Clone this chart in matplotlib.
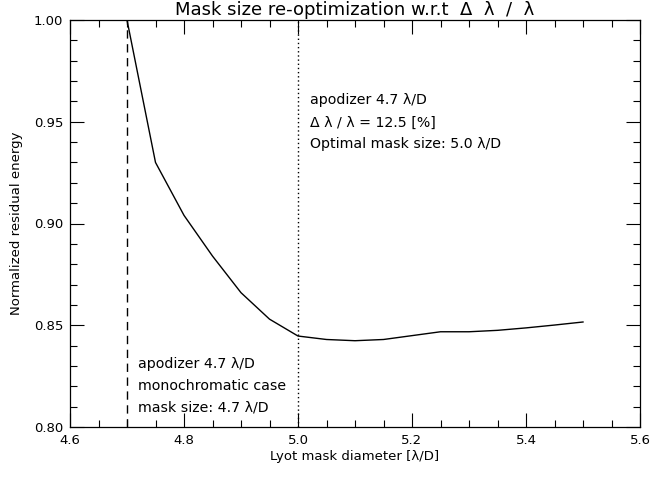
import numpy as np
import matplotlib
matplotlib.use("Agg")
import matplotlib.pyplot as plt
from matplotlib.ticker import MultipleLocator

# --- data ---
mask_size = [4.70, 4.75, 4.80, 4.85, 4.90, 4.95, 5.00, 5.05, 5.10, 5.15,
             5.20, 5.25, 5.30, 5.35, 5.40, 5.45, 5.50]
residual = [1.000, 0.930, 0.904, 0.884, 0.866, 0.853, 0.8447, 0.8430, 0.8424,
            0.8430, 0.8449, 0.8468, 0.8468, 0.8475, 0.8487, 0.8501, 0.8516]
mono_size = 4.7
optimal_size = 5.0

plt.rcParams['font.family'] = 'DejaVu Sans'

fig = plt.figure(figsize=(6.51, 4.78), dpi=100)
ax = fig.add_axes([70/651, 1 - 427/478, 570/651, 407/478])

ax.plot(mask_size, residual, color='black', lw=1.0)
ax.axvline(mono_size, color='black', lw=1.0, ls=(0, (6, 4)))
ax.axvline(optimal_size, color='black', lw=1.0, ls=(0, (1, 2)))

ax.set_xlim(4.6, 5.6)
ax.set_ylim(0.80, 1.00)
ax.xaxis.set_major_locator(MultipleLocator(0.2))
ax.xaxis.set_minor_locator(MultipleLocator(0.05))
ax.yaxis.set_major_locator(MultipleLocator(0.05))
ax.yaxis.set_minor_locator(MultipleLocator(0.01))
ax.xaxis.set_major_formatter(plt.FormatStrFormatter('%.1f'))
ax.yaxis.set_major_formatter(plt.FormatStrFormatter('%.2f'))
ax.tick_params(which='both', direction='in', top=True, right=True,
               labelsize=9.5, width=0.8)
ax.tick_params(which='major', length=10, pad=5)
ax.tick_params(which='minor', length=5)
for s in ax.spines.values():
    s.set_linewidth(0.9)

ax.set_xlabel('Lyot mask diameter [λ/D]', fontsize=9.5, labelpad=2)
ax.set_ylabel('Normalized residual energy', fontsize=9.5, labelpad=8)
fig.text(355/651, 1 - 10/478, 'Mask size re-optimization w.r.t  Δ  λ  /  λ',
         fontsize=13, ha='center', va='center')

fs = 10.2
ax.text(5.021, 0.9605, 'apodizer 4.7 λ/D', fontsize=fs, va='center')
ax.text(5.021, 0.9497, 'Δ λ / λ = 12.5 [%]', fontsize=fs, va='center')
ax.text(5.021, 0.9393, 'Optimal mask size: 5.0 λ/D', fontsize=fs, va='center')

ax.text(4.72, 0.8310, 'apodizer 4.7 λ/D', fontsize=fs, va='center')
ax.text(4.72, 0.8202, 'monochromatic case', fontsize=fs, va='center')
ax.text(4.72, 0.8098, 'mask size: 4.7 λ/D', fontsize=fs, va='center')

fig.savefig('out.png', dpi=100)
